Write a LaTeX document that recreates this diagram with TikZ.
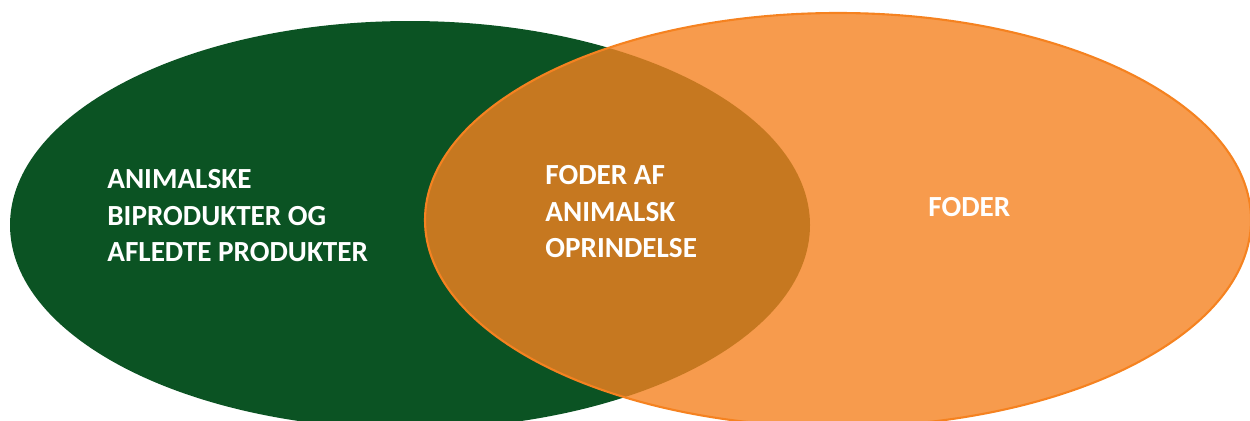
\documentclass[tikz,border=0pt]{standalone}
\usepackage{fontspec}
\setmainfont{Carlito}
\usepackage{tikz}
\usetikzlibrary{positioning}
\definecolor{darkgreen}{RGB}{11,83,35}
\definecolor{feedorange}{RGB}{245,130,32}

\begin{document}
\begin{tikzpicture}[x=0.02cm, y=-0.02cm,
    label/.style={text=white, font=\bfseries\fontsize{16.6}{20.8}\selectfont,
        align=left, inner sep=0pt, anchor=north west}]
    \useasboundingbox (0,0) rectangle (1250,420);
    % --- Ellipses ---
    \fill[darkgreen] (410,225) ellipse [x radius=400, y radius=204];
    \draw[feedorange, line width=1.2pt, fill=feedorange, fill opacity=0.8]
        (838,220) ellipse [x radius=413, y radius=207];
    % --- Labels ---
    \node[label] (byproducts) at (107,169) {ANIMALSKE\\BIPRODUKTER OG\\AFLEDTE PRODUKTER};
    \node[label] (animalfeed) at (545,165) {FODER AF\\ANIMALSK\\OPRINDELSE};
    \node[label] (feed) at (928,197) {FODER};
\end{tikzpicture}
\end{document}
